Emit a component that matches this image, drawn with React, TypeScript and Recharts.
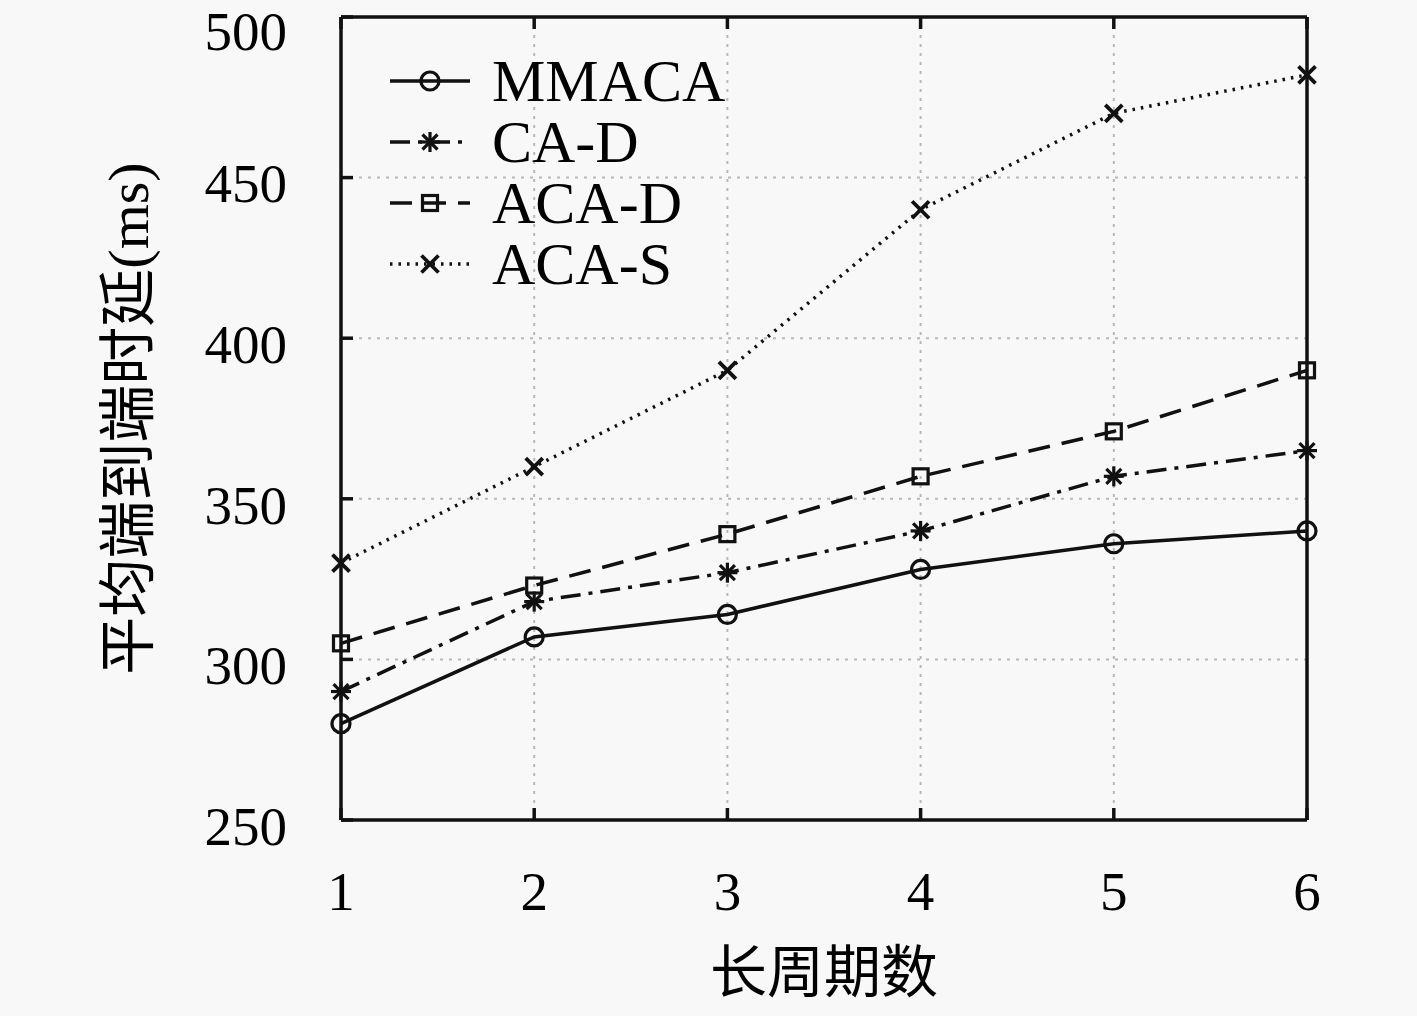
import React from 'react';
import { LineChart, Line, XAxis, YAxis, CartesianGrid, Legend } from 'recharts';

const periods = [1, 2, 3, 4, 5, 6];
const mmaca = [280, 307, 314, 328, 336, 340];
const caD = [290, 318, 327, 340, 357, 365];
const acaD = [305, 323, 339, 357, 371, 390];
const acaS = [330, 360, 390, 440, 470, 482];
const yTicks = [250, 300, 350, 400, 450, 500];
const seriesNames = ['MMACA', 'CA-D', 'ACA-D', 'ACA-S'];

const data = periods.map((p, i) => ({
  x: p,
  mmaca: mmaca[i],
  cad: caD[i],
  acad: acaD[i],
  acas: acaS[i],
}));

const INK = '#111';
const SERIF = "'Liberation Serif', 'DejaVu Serif', serif";
const CJK = "'Liberation Serif', 'Noto Sans CJK SC', serif";
const TICK_LEN = 12;
const Y_MARGIN = 54;
const X_MARGIN = 50;

type Shape = 'circle' | 'star' | 'square' | 'cross';

const Marker = ({ cx, cy, shape }: { cx: number; cy: number; shape: Shape }) => {
  if (cx == null || cy == null) return null;
  if (shape === 'circle') return <circle cx={cx} cy={cy} r={9} fill="none" stroke={INK} strokeWidth={3.2} />;
  if (shape === 'square') return <rect x={cx - 7.5} y={cy - 7.5} width={15} height={15} fill="none" stroke={INK} strokeWidth={3.2} />;
  if (shape === 'cross')
    return (
      <g stroke={INK} strokeWidth={3.8}>
        <line x1={cx - 8.5} y1={cy - 8.5} x2={cx + 8.5} y2={cy + 8.5} />
        <line x1={cx - 8.5} y1={cy + 8.5} x2={cx + 8.5} y2={cy - 8.5} />
      </g>
    );
  return (
    <g stroke={INK} strokeWidth={3.2}>
      <line x1={cx - 10} y1={cy} x2={cx + 10} y2={cy} />
      <line x1={cx} y1={cy - 10} x2={cx} y2={cy + 10} />
      <line x1={cx - 7.5} y1={cy - 7.5} x2={cx + 7.5} y2={cy + 7.5} />
      <line x1={cx - 7.5} y1={cy + 7.5} x2={cx + 7.5} y2={cy - 7.5} />
    </g>
  );
};

const styles: { key: string; shape: Shape; dash?: string }[] = [
  { key: 'mmaca', shape: 'circle' },
  { key: 'cad', shape: 'star', dash: '20 8 4 8' },
  { key: 'acad', shape: 'square', dash: '22 12' },
  { key: 'acas', shape: 'cross', dash: '2.5 6' },
];

const LegendContent = () => (
  <div style={{ fontFamily: SERIF, fontSize: 60, color: '#000' }}>
    {seriesNames.map((name, i) => (
      <div key={name} style={{ display: 'flex', alignItems: 'center', height: 61 }}>
        <svg width={104} height={61} style={{ display: 'block' }}>
          <line x1={2} y1={30} x2={82} y2={30} stroke={INK} strokeWidth={3.5} strokeDasharray={styles[i].dash} />
          <Marker cx={42} cy={30} shape={styles[i].shape} />
        </svg>
        <span style={{ lineHeight: '61px' }}>{name}</span>
      </div>
    ))}
  </div>
);

const YLabel = (props: any) => {
  const vb = props.viewBox || {};
  const cx = 128;
  const cy = vb.y + vb.height / 2;
  return (
    <text
      x={cx}
      y={cy}
      transform={`rotate(-90, ${cx}, ${cy})`}
      textAnchor="middle"
      dominantBaseline="central"
      fontFamily={CJK}
      fontSize={58}
      fill="#000"
    >
      平均端到端时延(ms)
    </text>
  );
};

const LeftTick = (props: any) => {
  const { x, y, payload } = props;
  const ax = x + Y_MARGIN;
  const ty = Math.max(y + 6, 31);
  return (
    <g>
      <line x1={ax} y1={y} x2={ax + TICK_LEN} y2={y} stroke={INK} strokeWidth={3.5} />
      <text x={x} y={ty} dy="0.34em" textAnchor="end" fontFamily={SERIF} fontSize={55} fill="#000">
        {payload.value}
      </text>
    </g>
  );
};

const BottomTick = (props: any) => {
  const { x, y, payload } = props;
  const ay = y - X_MARGIN;
  return (
    <g>
      <line x1={x} y1={ay} x2={x} y2={ay - TICK_LEN} stroke={INK} strokeWidth={3.5} />
      <text x={x} y={y} dy="0.72em" textAnchor="middle" fontFamily={SERIF} fontSize={55} fill="#000">
        {payload.value}
      </text>
    </g>
  );
};

const TopTick = (props: any) => {
  const { x, y } = props;
  return <line x1={x} y1={y} x2={x} y2={y + TICK_LEN} stroke={INK} strokeWidth={3.5} />;
};

const RightTick = (props: any) => {
  const { x, y } = props;
  return <line x1={x} y1={y} x2={x - TICK_LEN} y2={y} stroke={INK} strokeWidth={3.5} />;
};

const axisLine = { stroke: INK, strokeWidth: 3.5 };

export default function App() {
  return (
    <div style={{ position: 'absolute', left: 0, top: 0, width: 1417, height: 1016, background: '#f8f8f8' }}>
      <LineChart width={1417} height={1016} data={data} margin={{ top: 16, right: 109, bottom: 96, left: 0 }}>
        <CartesianGrid stroke="#b8b8b8" strokeWidth={2} strokeDasharray="3 6" />
        <XAxis
          dataKey="x"
          type="number"
          domain={[1, 6]}
          ticks={periods}
          height={100}
          axisLine={axisLine}
          tickLine={false}
          tickSize={0}
          tickMargin={X_MARGIN}
          tick={<BottomTick />}
          label={{ value: '长周期数', position: 'bottom', offset: 32, fontFamily: CJK, fontSize: 57, fill: '#000' }}
        />
        <XAxis
          xAxisId="top"
          orientation="top"
          dataKey="x"
          type="number"
          domain={[1, 6]}
          ticks={periods}
          height={1}
          axisLine={axisLine}
          tickLine={false}
          tickSize={0}
          tickMargin={0}
          tick={<TopTick />}
        />
        <YAxis
          type="number"
          domain={[250, 500]}
          ticks={yTicks}
          width={341}
          axisLine={axisLine}
          tickLine={false}
          tickSize={0}
          tickMargin={Y_MARGIN}
          tick={<LeftTick />}
          label={<YLabel />}
        />
        <YAxis
          yAxisId="right"
          orientation="right"
          type="number"
          domain={[250, 500]}
          ticks={yTicks}
          width={1}
          axisLine={axisLine}
          tickLine={false}
          tickSize={0}
          tickMargin={0}
          tick={<RightTick />}
        />
        <Legend
          layout="horizontal"
          verticalAlign="middle"
          align="center"
          content={<LegendContent />}
          wrapperStyle={{ left: 388, top: 51, width: 420, height: 250 }}
        />
        {styles.map((s, i) => (
          <Line
            key={s.key}
            dataKey={s.key}
            name={seriesNames[i]}
            stroke={INK}
            strokeWidth={3.5}
            strokeDasharray={s.dash}
            dot={(p: any) => <Marker key={`${s.key}-${p.index}`} cx={p.cx} cy={p.cy} shape={s.shape} />}
            activeDot={false}
            isAnimationActive={false}
          />
        ))}
      </LineChart>
    </div>
  );
}
